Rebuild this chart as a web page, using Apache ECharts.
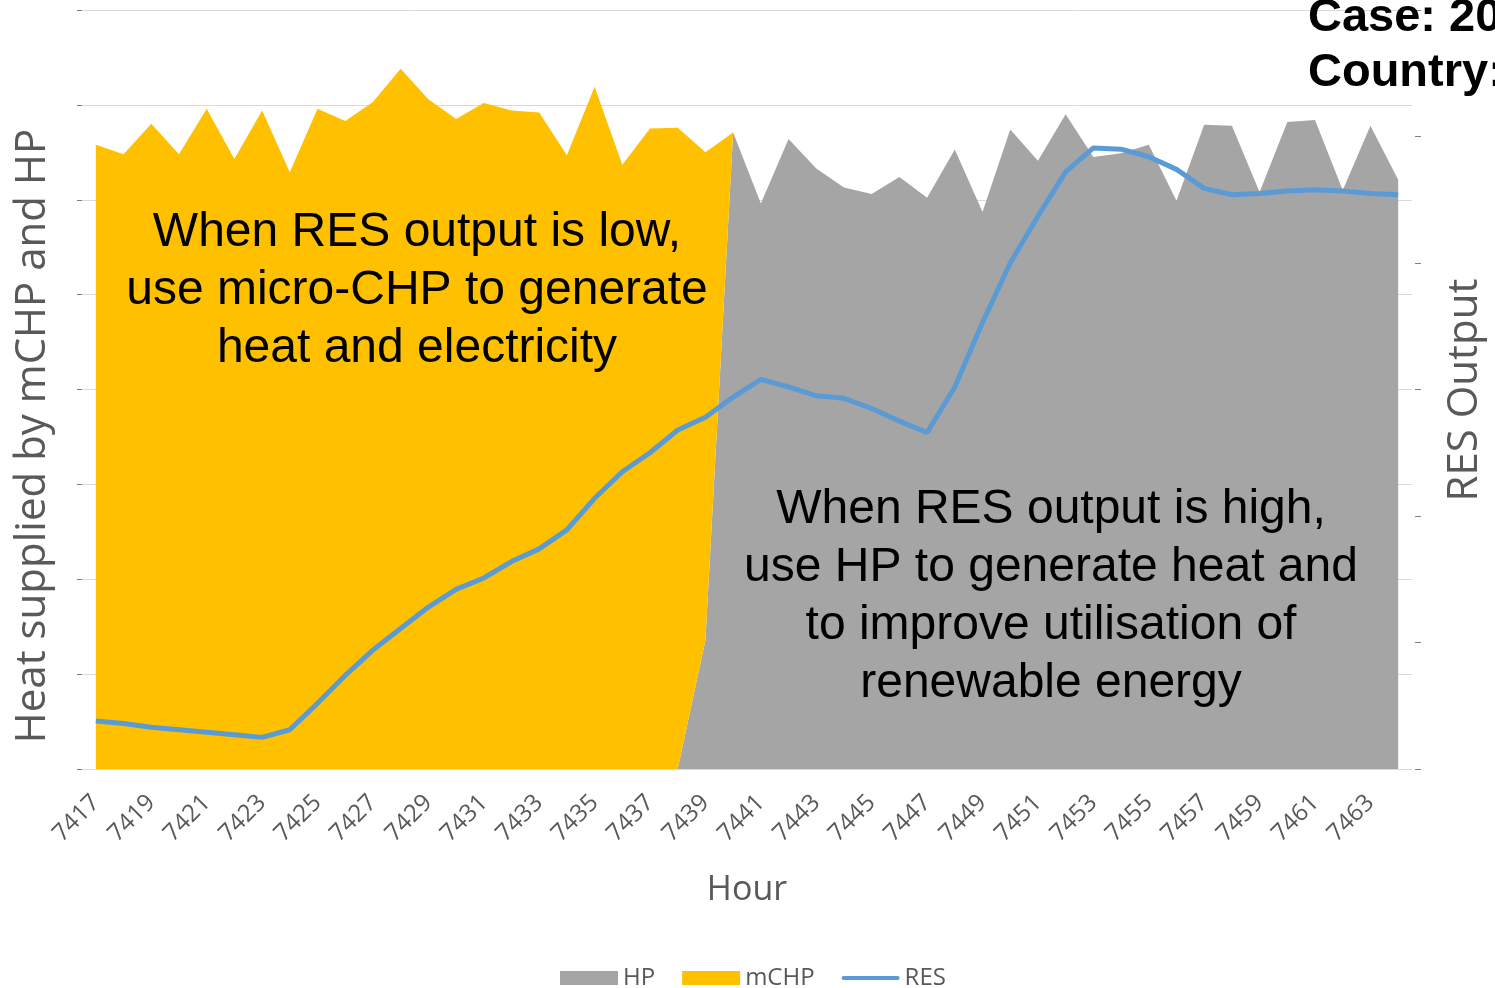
<!DOCTYPE html>
<html>
<head>
<meta charset="utf-8">
<title>Heat supplied by mCHP and HP vs RES output</title>
<script src="https://cdn.jsdelivr.net/npm/echarts@6/dist/echarts.min.js"></script>
<style>
  html, body { margin: 0; padding: 0; background: #ffffff; }
  #chart { width: 1495px; height: 988px; }
</style>
</head>
<body>
<div id="chart"></div>
<script>
// Hour of the year
const hours = [
  '7417','7418','7419','7420','7421','7422','7423','7424','7425','7426',
  '7427','7428','7429','7430','7431','7432','7433','7434','7435','7436',
  '7437','7438','7439','7440','7441','7442','7443','7444','7445','7446',
  '7447','7448','7449','7450','7451','7452','7453','7454','7455','7456',
  '7457','7458','7459','7460','7461','7462','7463','7464'
];

// Heat from heat pumps (left axis units)
const hpValues = [
  0, 0, 0, 0, 0, 0, 0, 0, 0, 0,
  0, 0, 0, 0, 0, 0, 0, 0, 0, 0,
  0, 0, 1.36, 6.71, 5.96, 6.64, 6.33, 6.13, 6.06, 6.24,
  6.02, 6.53, 5.87, 6.74, 6.41, 6.90, 6.45, 6.49, 6.58, 5.99,
  6.79, 6.78, 6.08, 6.82, 6.84, 6.10, 6.78, 6.21
];

// Heat from micro-CHP units (left axis units)
const mchpValues = [
  6.58, 6.48, 6.80, 6.48, 6.96, 6.43, 6.94, 6.29, 6.96, 6.83,
  7.03, 7.38, 7.06, 6.85, 7.02, 6.94, 6.92, 6.47, 7.19, 6.37,
  6.75, 6.76, 5.14, 0, 0, 0, 0, 0, 0, 0,
  0, 0, 0, 0, 0, 0, 0, 0, 0, 0,
  0, 0, 0, 0, 0, 0, 0, 0
];

// Renewable output (right axis units)
const resValues = [
  0.38, 0.36, 0.33, 0.31, 0.29, 0.27, 0.25, 0.31, 0.52, 0.74,
  0.94, 1.11, 1.28, 1.42, 1.51, 1.64, 1.74, 1.89, 2.14, 2.35,
  2.50, 2.68, 2.78, 2.94, 3.08, 3.02, 2.95, 2.93, 2.85, 2.75,
  2.66, 3.02, 3.53, 4.00, 4.37, 4.72, 4.91, 4.90, 4.84, 4.74,
  4.59, 4.54, 4.55, 4.57, 4.58, 4.57, 4.55, 4.54
];

const C_HP = '#A5A5A5';
const C_MCHP = '#FFC000';
const C_RES = '#5B9BD5';
const AXIS_TEXT = '#595959';
const FONT = '"Open Sans", "Liberation Sans", sans-serif';
const NOTE_FONT = '48px "Liberation Sans", Arial, sans-serif';

const chart = echarts.init(document.getElementById('chart'), null, { renderer: 'canvas' });

chart.setOption({
  animation: false,
  backgroundColor: '#ffffff',
  grid: { left: 82, right: 83, top: 10, bottom: 219, containLabel: false },
  legend: {
    top: 961,
    left: 555,
    itemWidth: 58,
    itemHeight: 14,
    itemGap: 27,
    textStyle: { color: AXIS_TEXT, fontSize: 24, fontFamily: FONT },
    data: [
      { name: 'HP', icon: 'rect' },
      { name: 'mCHP', icon: 'rect' },
      { name: 'RES', icon: 'path://M2,0H56A2,2,0,0,1,56,4H2A2,2,0,0,1,2,0Z' }
    ]
  },
  xAxis: {
    type: 'category',
    data: hours,
    boundaryGap: true,
    name: 'Hour',
    nameLocation: 'middle',
    nameGap: 104,
    nameTextStyle: { color: AXIS_TEXT, fontSize: 34, fontFamily: FONT },
    axisLine: { show: true, lineStyle: { color: '#D9D9D9', width: 1 } },
    axisTick: { show: false },
    axisLabel: {
      interval: 1,
      rotate: 45,
      margin: 30,
      color: AXIS_TEXT,
      fontSize: 24,
      fontFamily: FONT
    },
    splitLine: { show: false }
  },
  yAxis: [
    {
      type: 'value',
      min: 0,
      max: 8,
      interval: 1,
      axisLine: { show: false },
      axisTick: { show: true, length: 5, lineStyle: { color: '#7F7F7F' } },
      axisLabel: { show: false },
      splitLine: { show: true, lineStyle: { color: '#D9D9D9', width: 1 } }
    },
    {
      type: 'value',
      position: 'right',
      min: 0,
      max: 6,
      interval: 1,
      offset: 3,
      axisLine: { show: false },
      axisTick: { show: true, length: 6, lineStyle: { color: '#7F7F7F' } },
      axisLabel: { show: false },
      splitLine: { show: false }
    }
  ],
  series: [
    {
      name: 'HP',
      type: 'line',
      stack: 'heat',
      data: hpValues,
      symbol: 'none',
      lineStyle: { width: 0 },
      itemStyle: { color: C_HP },
      areaStyle: { color: C_HP, opacity: 1 },
      z: 2
    },
    {
      name: 'mCHP',
      type: 'line',
      stack: 'heat',
      data: mchpValues,
      symbol: 'none',
      lineStyle: { width: 0 },
      itemStyle: { color: C_MCHP },
      areaStyle: { color: C_MCHP, opacity: 1 },
      z: 2
    },
    {
      name: 'RES',
      type: 'line',
      yAxisIndex: 1,
      data: resValues,
      symbol: 'none',
      lineStyle: { width: 5, color: C_RES },
      itemStyle: { color: C_RES },
      z: 3
    }
  ],
  graphic: [
    {
      type: 'text',
      x: 33, y: 436,
      rotation: Math.PI / 2,
      style: {
        text: 'Heat supplied by mCHP and HP',
        font: '42px ' + FONT,
        fill: AXIS_TEXT,
        textAlign: 'center',
        textVerticalAlign: 'middle'
      },
      z: 10
    },
    {
      type: 'text',
      x: 1465, y: 390,
      rotation: Math.PI / 2,
      style: {
        text: 'RES Output',
        font: '42px ' + FONT,
        fill: AXIS_TEXT,
        textAlign: 'center',
        textVerticalAlign: 'middle'
      },
      z: 10
    },
    {
      type: 'text',
      x: 417, y: 291,
      style: {
        text: 'When RES output is low,\nuse micro-CHP to generate\nheat and electricity',
        font: NOTE_FONT,
        lineHeight: 58,
        fill: '#000000',
        textAlign: 'center',
        textVerticalAlign: 'middle'
      },
      z: 10
    },
    {
      type: 'text',
      x: 1051, y: 597,
      style: {
        text: 'When RES output is high,\nuse HP to generate heat and\nto improve utilisation of\nrenewable energy',
        font: NOTE_FONT,
        lineHeight: 58,
        fill: '#000000',
        textAlign: 'center',
        textVerticalAlign: 'middle'
      },
      z: 10
    },
    {
      type: 'text',
      x: 1308, y: 46,
      style: {
        text: 'Case: 20\nCountry:',
        font: 'bold 47px "Liberation Sans", Arial, sans-serif',
        lineHeight: 55,
        fill: '#000000',
        textAlign: 'left',
        textVerticalAlign: 'middle'
      },
      z: 10
    }
  ]
});
</script>
</body>
</html>
